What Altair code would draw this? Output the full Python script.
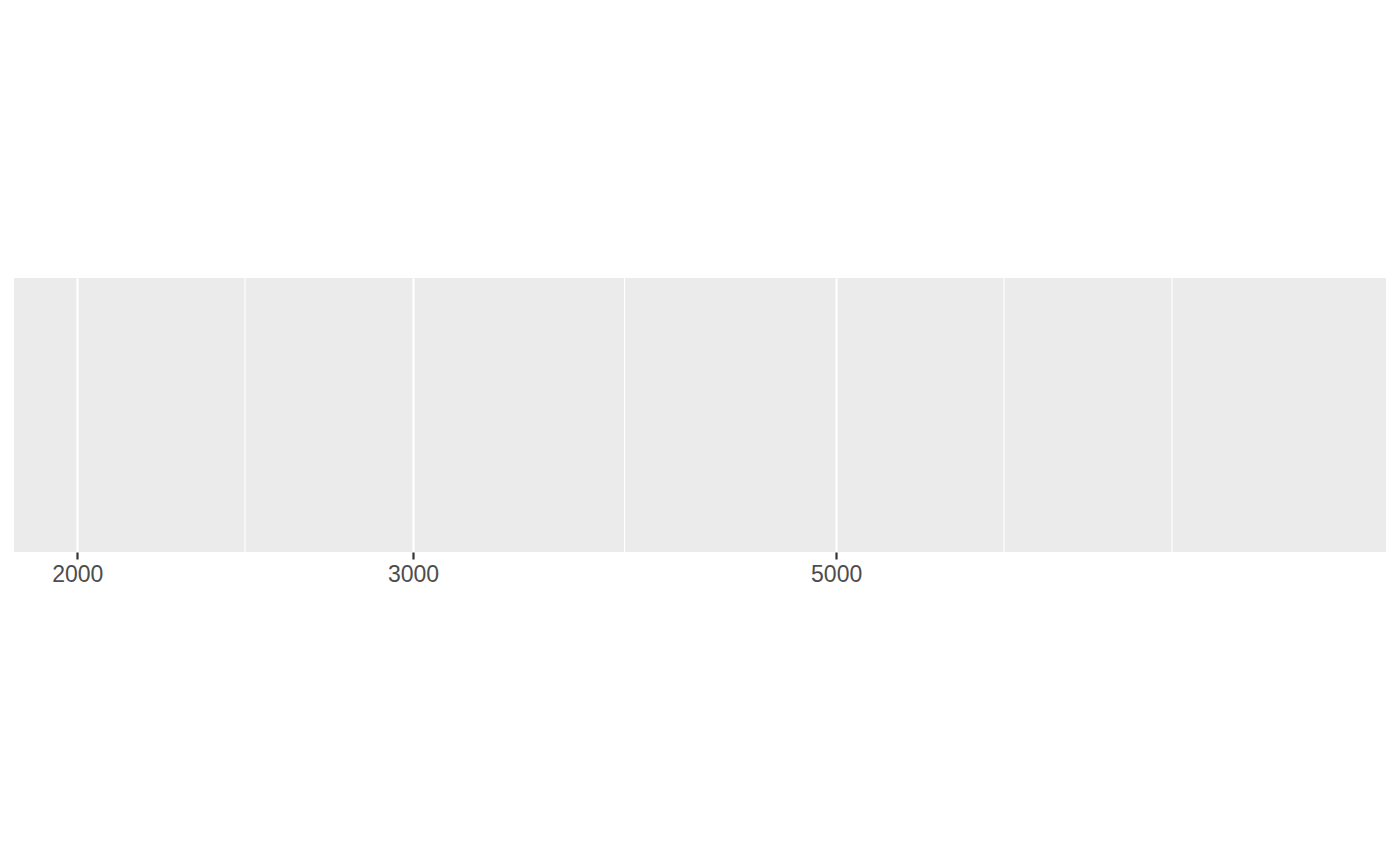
import altair as alt
import pandas as pd

# Scale (log10) limits
x_domain = [1853, 9712]
# Major breaks (labelled)
major_breaks = [2000, 3000, 5000]
# Minor breaks (ggplot-style midpoints in log space)
minor_breaks = [2449, 3873, 6124, 7500]

minor_df = pd.DataFrame({"v": minor_breaks})

xscale = alt.Scale(type="log", domain=x_domain, nice=False, zero=False)

minor = alt.Chart(minor_df).mark_rule(color="white", strokeWidth=1.1).encode(
    x=alt.X(
        "v:Q",
        scale=xscale,
        axis=alt.Axis(
            values=major_breaks,
            format="d",
            title=None,
            grid=True,
            gridColor="white",
            gridWidth=2.2,
            domain=False,
            ticks=True,
            tickColor="#333333",
            tickWidth=2.2,
            tickSize=7,
            labelColor="#4D4D4D",
            labelFont="Liberation Sans",
            labelFontSize=23,
            labelPadding=4,
        ),
    )
)

chart = (
    minor.properties(
        width=1372,
        height=274,
        background="white",
        autosize=alt.AutoSizeParams(type="none"),
        padding={"left": 14, "top": 278, "right": 14, "bottom": 314},
    )
    .configure_view(fill="#EBEBEB", strokeWidth=0)
)

chart.save("out.html", embed_options={"renderer": "svg", "actions": False})
